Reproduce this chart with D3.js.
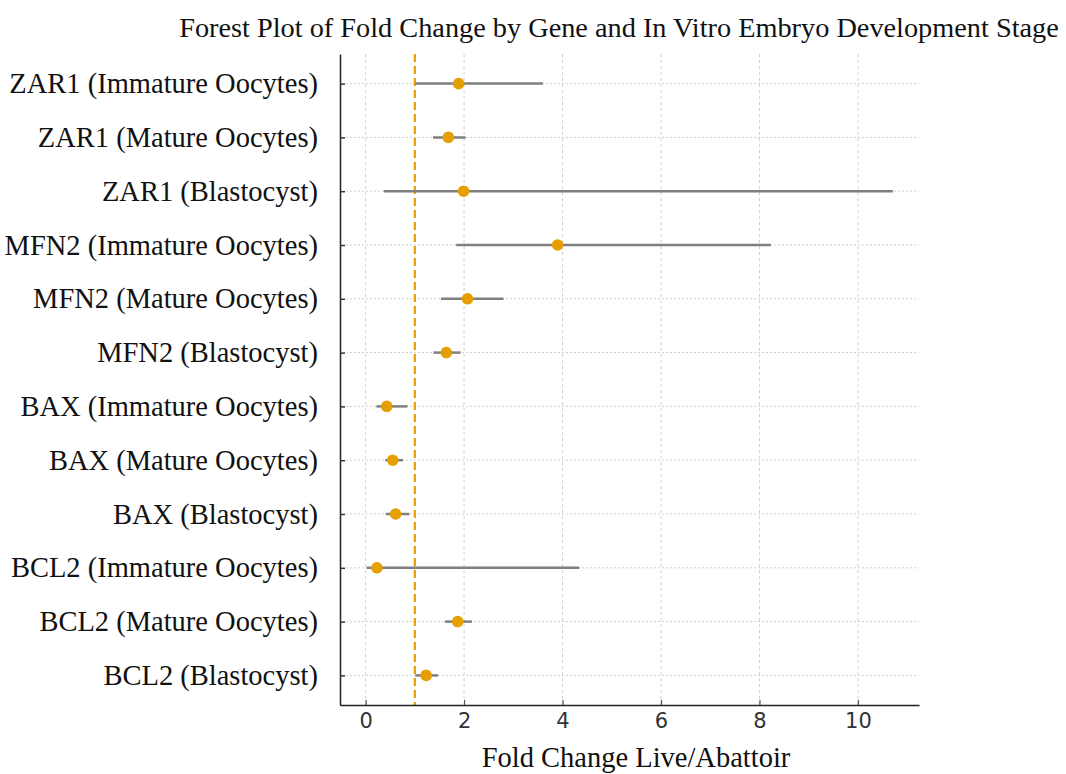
<!DOCTYPE html>
<html>
<head>
<meta charset="utf-8">
<script src="https://cdn.jsdelivr.net/npm/d3@7"></script>
<style>
  body { margin: 0; background: #fff; }
  svg { display: block; }
</style>
</head>
<body>
<svg class="chart"></svg>
<script>
// dados
var labels = [
  "ZAR1 (Immature Oocytes)", "ZAR1 (Mature Oocytes)", "ZAR1 (Blastocyst)",
  "MFN2 (Immature Oocytes)", "MFN2 (Mature Oocytes)", "MFN2 (Blastocyst)",
  "BAX (Immature Oocytes)", "BAX (Mature Oocytes)", "BAX (Blastocyst)",
  "BCL2 (Immature Oocytes)", "BCL2 (Mature Oocytes)", "BCL2 (Blastocyst)"
];
var foldChange = [1.89, 1.68, 1.99, 3.90, 2.07, 1.64, 0.43, 0.55, 0.61, 0.23, 1.87, 1.23];
var ciLower    = [1.01, 1.37, 0.37, 1.84, 1.53, 1.38, 0.22, 0.40, 0.41, 0.02, 1.61, 1.01];
var ciUpper    = [3.60, 2.03, 10.71, 8.23, 2.80, 1.93, 0.85, 0.76, 0.89, 4.34, 2.16, 1.47];
var xTicks = [0, 2, 4, 6, 8, 10];
var refLine = 1;

var width = 1066, height = 774;
var margin = {top: 54, right: 147, bottom: 69, left: 340};
var serif = "'Liberation Serif', 'Times New Roman', serif";

var svg = d3.select(".chart")
  .attr("width", width)
  .attr("height", height);

var innerW = width - margin.left - margin.right;
var innerH = height - margin.top - margin.bottom;

var g = svg.append("g")
  .attr("transform", "translate(" + margin.left + "," + margin.top + ")");

// escalas
var x = d3.scaleLinear().domain([-0.52, 11.24]).range([0, innerW]);
var y = d3.scalePoint().domain(labels).range([0, innerH]).padding(0.55);

// grade vertical
g.selectAll(".vgrid")
  .data(xTicks)
  .enter().append("line")
  .attr("class", "vgrid")
  .attr("x1", function(d) { return x(d); })
  .attr("x2", function(d) { return x(d); })
  .attr("y1", 0)
  .attr("y2", innerH)
  .style("stroke", "#d0d0d0")
  .style("stroke-width", 1)
  .style("stroke-dasharray", "3,3");

// grade horizontal
g.selectAll(".hgrid")
  .data(labels)
  .enter().append("line")
  .attr("class", "hgrid")
  .attr("x1", 6)
  .attr("x2", innerW)
  .attr("y1", function(d) { return y(d); })
  .attr("y2", function(d) { return y(d); })
  .style("stroke", "#cfcfcf")
  .style("stroke-width", 1)
  .style("stroke-dasharray", "2,2");

// linha de referência
g.append("line")
  .attr("x1", x(refLine))
  .attr("x2", x(refLine))
  .attr("y1", 0)
  .attr("y2", innerH)
  .style("stroke", "#E69F00")
  .style("stroke-width", 2.2)
  .style("stroke-dasharray", "8,4");

// intervalos de confiança
g.selectAll(".ci")
  .data(labels)
  .enter().append("line")
  .attr("class", "ci")
  .attr("x1", function(d, i) { return x(ciLower[i]); })
  .attr("x2", function(d, i) { return x(ciUpper[i]); })
  .attr("y1", function(d) { return y(d); })
  .attr("y2", function(d) { return y(d); })
  .style("stroke", "#7f7f7f")
  .style("stroke-width", 2.5);

// pontos
g.selectAll(".pt")
  .data(labels)
  .enter().append("circle")
  .attr("class", "pt")
  .attr("cx", function(d, i) { return x(foldChange[i]); })
  .attr("cy", function(d) { return y(d); })
  .attr("r", 5.8)
  .style("fill", "#E69F00");

// eixo y
var yAxisG = g.append("g")
  .call(d3.axisLeft(y).tickSize(-5).tickPadding(22).tickSizeOuter(0));
yAxisG.select(".domain").style("stroke", "#222").style("stroke-width", 1.5);
yAxisG.selectAll(".tick line").style("stroke", "#333").style("stroke-width", 1.5);
yAxisG.selectAll(".tick text")
  .style("font-family", serif)
  .style("font-size", "28.5px")
  .style("fill", "#111");

// eixo x
var xAxisG = g.append("g")
  .attr("transform", "translate(0," + innerH + ")")
  .call(d3.axisBottom(x).tickValues(xTicks).tickSize(-5).tickPadding(8).tickSizeOuter(0));
xAxisG.select(".domain").style("stroke", "#222").style("stroke-width", 1.5);
xAxisG.selectAll(".tick line").style("stroke", "#555").style("stroke-width", 1.2);
xAxisG.selectAll(".tick text")
  .style("font-family", "'DejaVu Sans', sans-serif")
  .style("font-size", "21px")
  .style("fill", "#333");

// título e rótulo
svg.append("text")
  .attr("x", 619)
  .attr("y", 37)
  .attr("text-anchor", "middle")
  .style("font-family", serif)
  .style("font-size", "28.3px")
  .style("fill", "#111")
  .text("Forest Plot of Fold Change by Gene and In Vitro Embryo Development Stage");

svg.append("text")
  .attr("x", 636)
  .attr("y", 767)
  .attr("text-anchor", "middle")
  .style("font-family", serif)
  .style("font-size", "28.5px")
  .style("fill", "#111")
  .text("Fold Change Live/Abattoir");
</script>
</body>
</html>
